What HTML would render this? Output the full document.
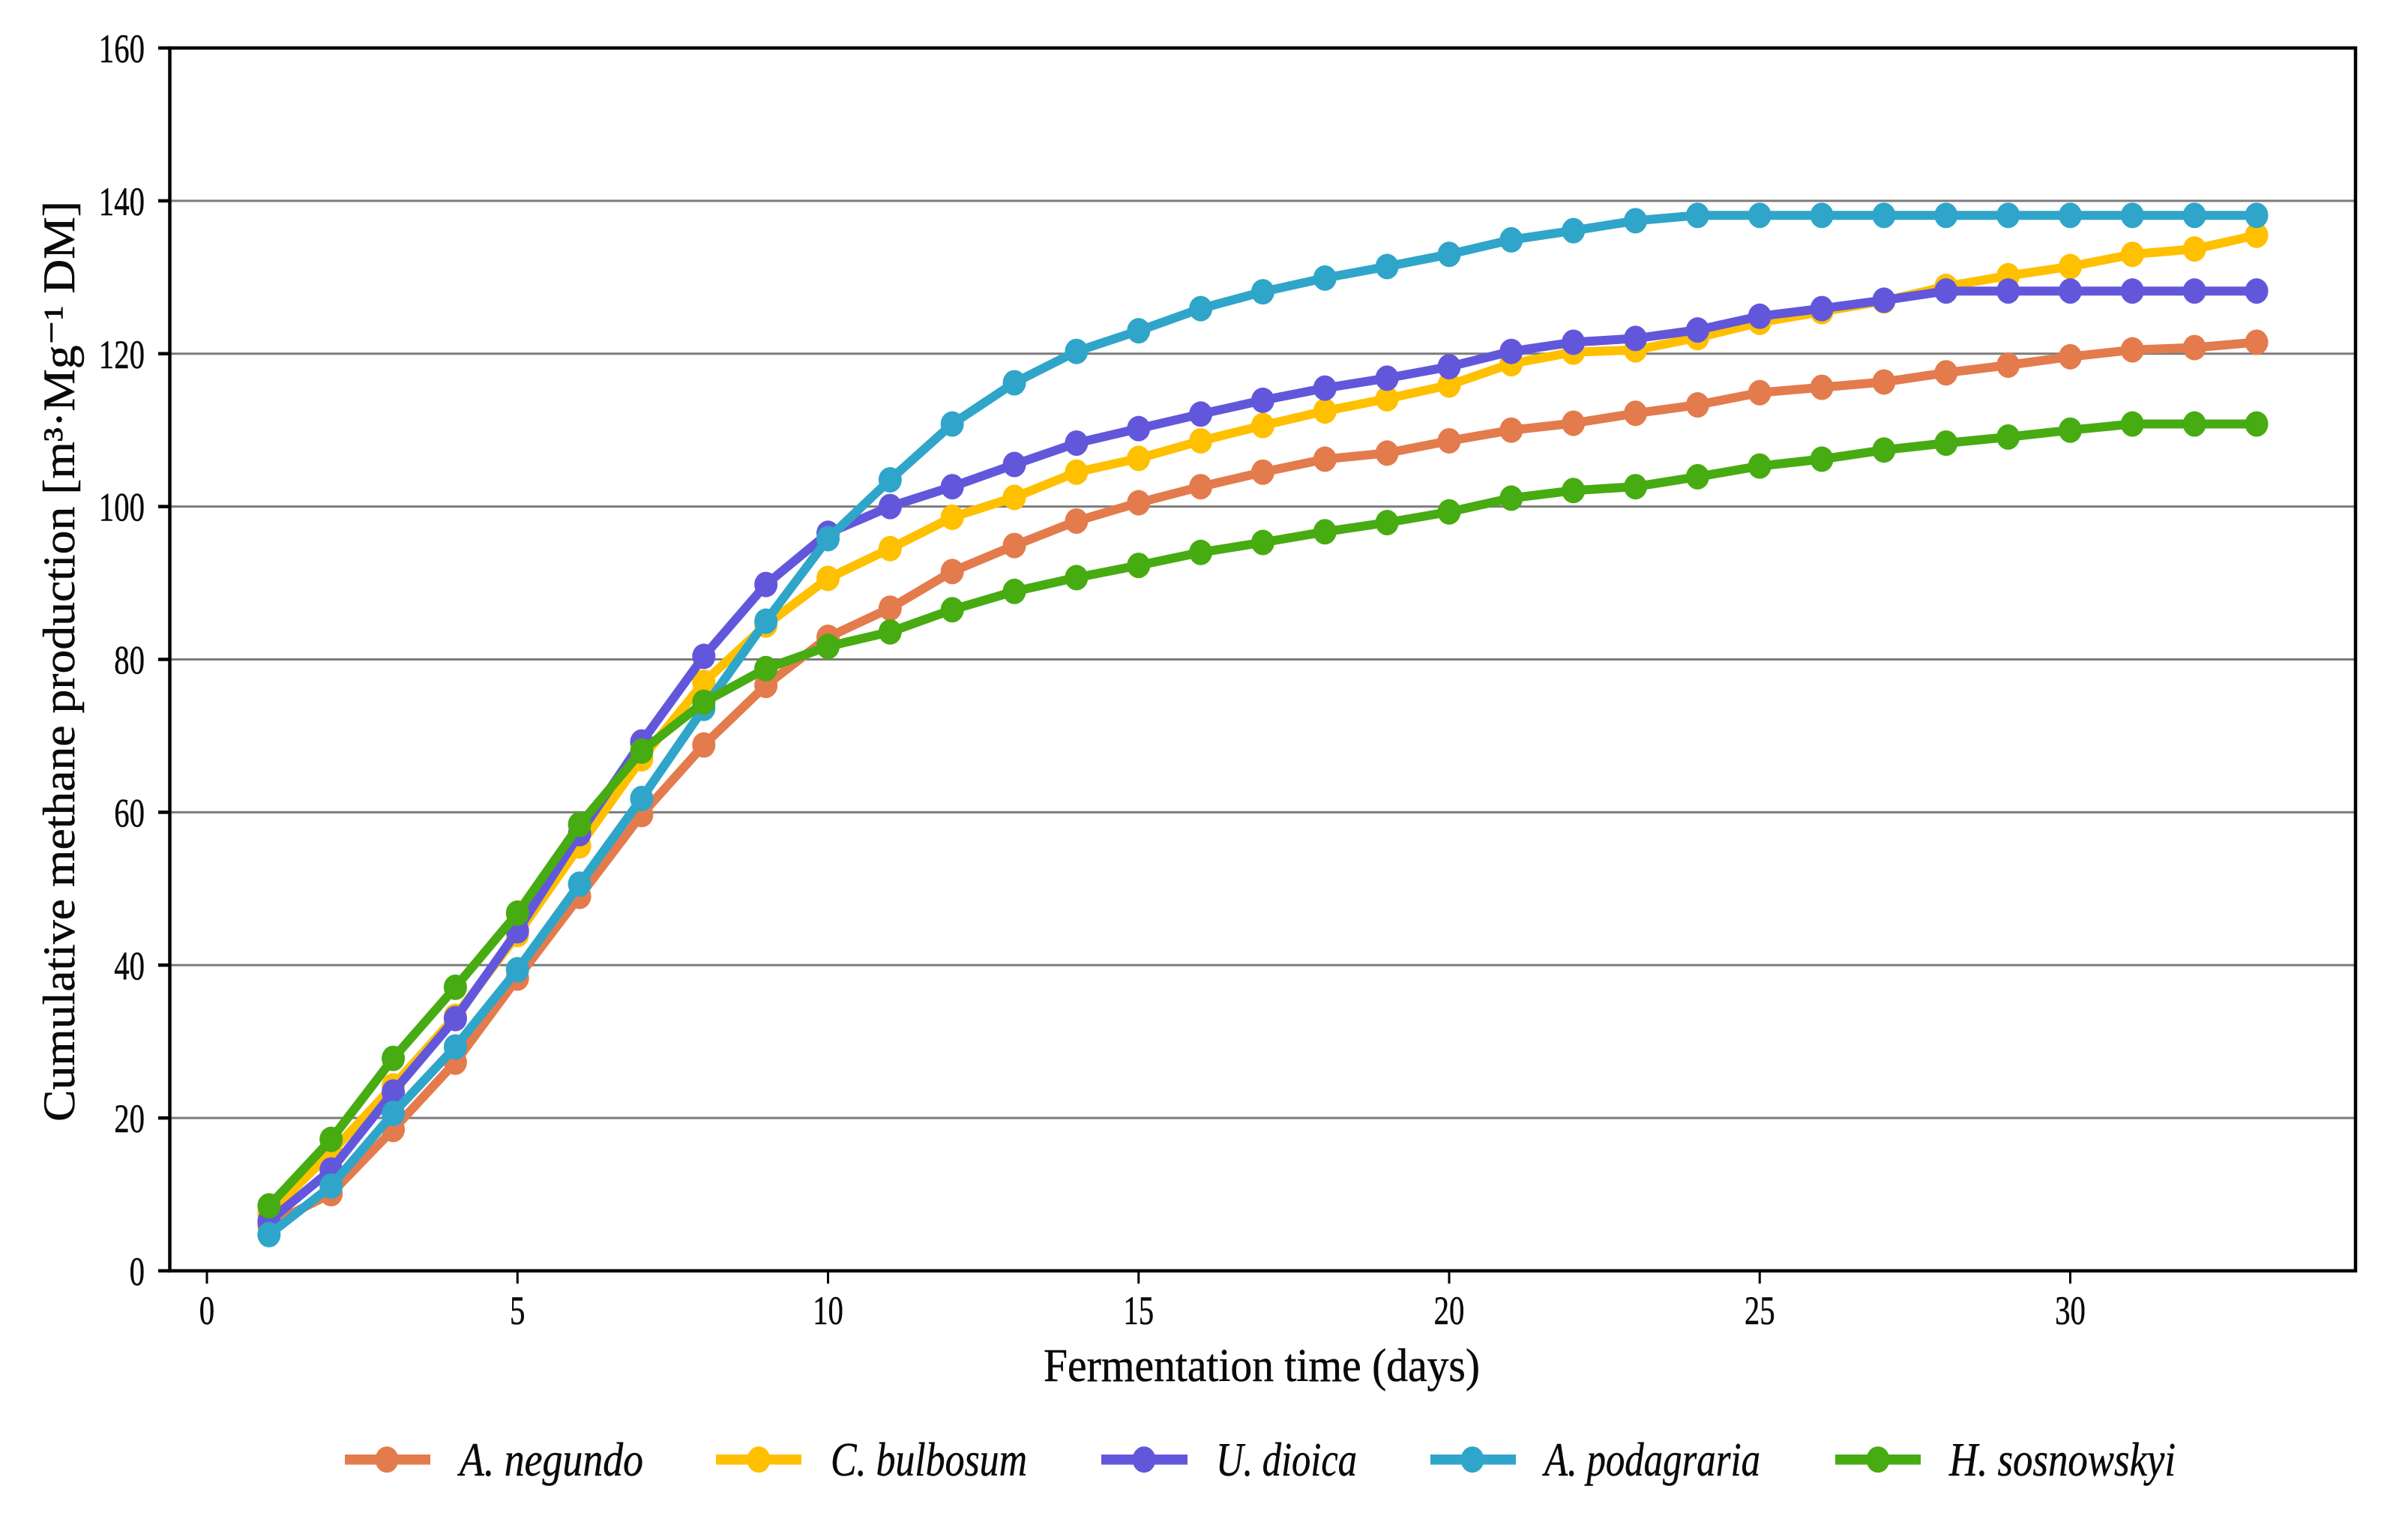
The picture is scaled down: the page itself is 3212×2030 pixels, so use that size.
<!DOCTYPE html>
<html lang="en">
<head>
<meta charset="utf-8">
<title>Cumulative methane production</title>
<style>
html,body{margin:0;padding:0;background:#fff;}
body{width:3212px;height:2030px;overflow:hidden;}
svg{display:block;}
text{font-family:"Liberation Serif","DejaVu Serif",serif;fill:#0a0a0a;stroke:#0a0a0a;stroke-width:0.5px;}
</style>
</head>
<body>
<svg id="chart" xmlns="http://www.w3.org/2000/svg" width="3212" height="2030" viewBox="0 0 3212 2030">
  <rect x="0" y="0" width="3212" height="2030" fill="#ffffff"/>
  <g id="grid"></g>
  <g id="series"></g>
  <rect x="226.5" y="64" width="2915.5" height="1631" fill="none" stroke="#000" stroke-width="4.5"/>
  <g id="ticks"></g>
  <text transform="translate(99,1496) rotate(-90)" font-size="60" textLength="1228" lengthAdjust="spacingAndGlyphs">Cumulative methane production [m³·Mg⁻¹ DM]</text>
  <text x="1392" y="1842" font-size="62" textLength="582" lengthAdjust="spacingAndGlyphs">Fermentation time (days)</text>
  <g>
    <g>
      <rect x="460" y="1940" width="114" height="13.5" fill="#E37B4D"/>
      <ellipse cx="516" cy="1946.7" rx="15.5" ry="17.5" fill="#E37B4D"/>
      <text x="613" y="1968" font-size="64" font-style="italic" textLength="245" lengthAdjust="spacingAndGlyphs">A. negundo</text>
    </g>
    <g>
      <rect x="955" y="1940" width="114" height="13.5" fill="#FFC000"/>
      <ellipse cx="1012" cy="1946.7" rx="15.5" ry="17.5" fill="#FFC000"/>
      <text x="1108" y="1968" font-size="64" font-style="italic" textLength="262" lengthAdjust="spacingAndGlyphs">C. bulbosum</text>
    </g>
    <g>
      <rect x="1469" y="1940" width="115" height="13.5" fill="#6257DB"/>
      <ellipse cx="1526" cy="1946.7" rx="15.5" ry="17.5" fill="#6257DB"/>
      <text x="1622" y="1968" font-size="64" font-style="italic" textLength="188" lengthAdjust="spacingAndGlyphs">U. dioica</text>
    </g>
    <g>
      <rect x="1908" y="1940" width="114" height="13.5" fill="#2FA5C9"/>
      <ellipse cx="1964" cy="1946.7" rx="15.5" ry="17.5" fill="#2FA5C9"/>
      <text x="2060" y="1968" font-size="64" font-style="italic" textLength="288" lengthAdjust="spacingAndGlyphs">A. podagraria</text>
    </g>
    <g>
      <rect x="2448" y="1940" width="114" height="13.5" fill="#47AB12"/>
      <ellipse cx="2505" cy="1946.7" rx="15.5" ry="17.5" fill="#47AB12"/>
      <text x="2600" y="1968" font-size="64" font-style="italic" textLength="302" lengthAdjust="spacingAndGlyphs">H. sosnowskyi</text>
    </g>
  </g>
</svg>
<script>
const days = [1,2,3,4,5,6,7,8,9,10,11,12,13,14,15,16,17,18,19,20,21,22,23,24,25,26,27,28,29,30,31,32,33];
const xTickLabels = [0,5,10,15,20,25,30];
const yTickLabels = [0,20,40,60,80,100,120,140,160];
const negundo = [6,10.1,18.5,27.3,38.3,49,59.7,68.8,76.6,82.9,86.7,91.5,94.9,98.1,100.5,102.6,104.5,106.2,107,108.6,110,110.9,112.2,113.3,114.9,115.6,116.3,117.5,118.5,119.6,120.5,120.8,121.5];
const bulbosum = [7.5,15.5,24.2,33.3,44,55.6,67,77,84.5,90.6,94.5,98.6,101.2,104.5,106.3,108.6,110.6,112.5,114.1,115.9,118.7,120.2,120.5,122.1,124.1,125.5,126.9,128.8,130.2,131.4,133,133.7,135.5];
const dioica = [6.5,13.2,23.4,33,44.5,57.2,69.2,80.4,89.8,96.5,100,102.6,105.5,108.3,110.2,112.1,113.9,115.5,116.8,118.3,120.3,121.5,122,123.1,124.9,125.9,127,128.2,128.2,128.2,128.2,128.2,128.2];
const podagraria = [4.74,11.1,20.6,29.3,39.4,50.6,61.8,73.6,85,95.8,103.5,110.8,116.2,120.3,123,125.9,128.1,129.9,131.4,133,134.9,136.1,137.4,138.1,138.1,138.1,138.1,138.1,138.1,138.1,138.1,138.1,138.1];
const sosnowskyi = [8.5,17.2,27.8,37.1,46.8,58.4,68,74.4,78.8,81.7,83.6,86.5,88.9,90.7,92.3,94,95.3,96.7,97.9,99.3,101.1,102.1,102.6,103.9,105.3,106.2,107.4,108.3,109.1,110,110.8,110.8,110.8];
const seriesKeys = ['a-negundo','c-bulbosum','u-dioica','a-podagraria','h-sosnowskyi'];
const seriesValues = [negundo,bulbosum,dioica,podagraria,sosnowskyi];
const seriesColors = ['#E37B4D','#FFC000','#6257DB','#2FA5C9','#47AB12'];

const NS = 'http://www.w3.org/2000/svg';
function xScale(v){ return 276 + 82.85 * v; }
function yScale(v){ return 1695 - (1631 / 160) * v; }
function make(tag, props, parent){
  const el = document.createElementNS(NS, tag);
  for (const k in props) el.setAttribute(k, props[k]);
  parent.appendChild(el);
  return el;
}
const gridG = document.getElementById('grid');
const ticksG = document.getElementById('ticks');
const seriesG = document.getElementById('series');

yTickLabels.forEach(function(v){
  const y = yScale(v);
  if (v > 0 && v < 160) {
    const g = make('line', {x1:226.5, x2:3142, y1:y, y2:y, stroke:'#7c7c7c', 'stroke-width':3}, gridG);
    
    
  }
  const t = make('line', {x1:211, x2:227, y1:y, y2:y, stroke:'#000', 'stroke-width':4.5}, ticksG);
  
  
  const s = String(v);
  const w = 20.4 * s.length;
  const lab = make('text', {x:193 - w, y:y + 19, 'font-size':54, textLength:w, lengthAdjust:'spacingAndGlyphs'}, ticksG);
  lab.textContent = s;
  
  
});

xTickLabels.forEach(function(v){
  const x = xScale(v);
  const t = make('line', {x1:x, x2:x, y1:1695, y2:1712, stroke:'#000', 'stroke-width':3}, ticksG);
  
  
  const s = String(v);
  const w = 20.4 * s.length;
  const lab = make('text', {x:x - w / 2, y:1766, 'font-size':54, textLength:w, lengthAdjust:'spacingAndGlyphs'}, ticksG);
  lab.textContent = s;
  
  
});

seriesValues.forEach(function(vals, i){
  const g = make('g', {}, seriesG);
  
  
  const pts = vals.map(function(v, j){ return xScale(days[j]).toFixed(1) + ',' + yScale(v).toFixed(1); }).join(' ');
  const line = make('polyline', {points:pts, fill:'none', stroke:seriesColors[i], 'stroke-width':12, 'stroke-linejoin':'round'}, g);
  
  
  vals.forEach(function(v, j){
    const m = make('ellipse', {cx:xScale(days[j]), cy:yScale(v), rx:15.5, ry:17, fill:seriesColors[i]}, g);
    
    
  });
});
</script>
</body>
</html>
